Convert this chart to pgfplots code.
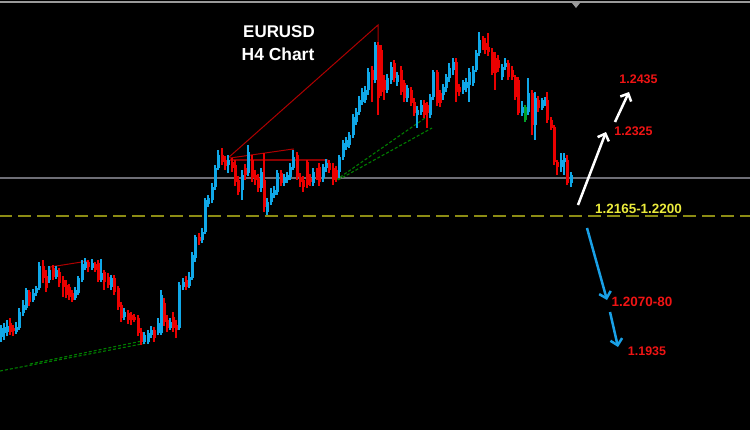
\documentclass[border=0pt]{standalone}
\usepackage{pgfplots}
\pgfplotsset{compat=1.18}
\usepackage{pgfplotstable}
\usetikzlibrary{arrows.meta}
\usepackage{fontspec}
\setmainfont{Liberation Sans}
\definecolor{cblue}{RGB}{16,168,232}
\definecolor{cred}{RGB}{235,0,0}
\definecolor{cgreen}{RGB}{0,160,40}
\definecolor{tline}{RGB}{175,0,0}
\definecolor{gline}{RGB}{0,125,0}
\definecolor{olivel}{RGB}{140,140,20}
\definecolor{grayl}{RGB}{110,110,118}
\definecolor{txtred}{RGB}{240,20,20}
\definecolor{txtyel}{RGB}{235,235,60}
\definecolor{arrblue}{RGB}{25,160,230}

\pgfplotstableread{
x t b h l
1 328 337 325 342
4 327 333 323 340
7 326 332 320 336
16 327 332 322 334
19 312 328 308 330
23 305 313 300 316
26 290 308 288 310
33 293 300 289 302
36 288 293 286 296
39 266 288 262 290
49 270 280 266 283
56 270 277 266 279
75 290 298 287 300
78 278 293 276 295
82 264 280 260 282
85 262 268 258 270
92 263 268 259 270
101 273 280 259 282
111 278 287 275 290
124 312 317 308 320
144 335 342 332 344
148 333 342 330 344
151 330 335 326 338
158 323 333 318 335
161 295 333 290 335
170 322 328 318 330
179 285 328 282 330
183 282 287 278 290
189 277 286 272 288
192 255 278 252 280
195 237 258 235 262
202 232 240 228 243
205 200 232 198 234
208 198 204 195 207
212 187 200 183 203
215 168 187 165 190
218 155 168 150 170
228 160 165 155 173
242 175 190 170 200
248 152 173 145 176
261 172 188 168 192
267 202 212 198 215
271 193 202 188 205
274 190 195 186 198
277 173 192 170 195
284 177 183 174 186
287 175 180 172 183
290 167 177 163 180
293 157 168 150 170
313 172 183 168 186
323 167 178 164 182
326 163 168 159 172
339 157 172 155 178
343 143 157 140 160
346 140 147 137 150
349 135 145 132 148
353 117 135 114 138
356 112 122 108 125
359 100 112 96 115
362 92 102 88 105
365 90 100 86 103
368 72 90 68 95
375 45 80 42 83
387 78 90 74 93
391 67 80 62 84
397 75 82 72 86
407 88 98 85 102
417 110 115 106 128
421 105 112 100 115
430 97 115 94 118
433 72 97 70 100
443 87 95 84 100
446 77 88 74 92
449 68 78 63 82
453 62 70 58 75
463 82 90 80 94
466 82 88 78 92
469 72 85 68 102
473 70 83 66 86
476 53 70 50 72
479 40 53 32 56
502 67 77 64 80
505 63 67 58 70
522 107 113 101 116
528 93 112 78 115
535 98 125 92 140
542 100 108 98 110
545 99 103 97 106
561 160 167 153 172
564 158 162 153 175
571 175 183 172 187
}\bluecandles

\pgfplotstableread{
x t b h l
10 323 332 318 335
13 328 331 325 336
29 292 302 290 306
43 266 278 260 283
46 276 288 270 292
53 268 277 265 280
59 272 283 268 287
63 280 287 276 297
66 285 295 280 298
69 287 297 284 300
72 293 300 290 302
88 262 267 260 272
95 264 270 262 272
98 263 280 260 282
104 272 282 270 290
108 277 285 273 288
114 278 292 275 295
118 288 307 286 310
121 305 318 302 322
128 313 320 310 324
131 315 320 312 325
134 317 320 314 322
138 318 333 315 336
141 332 342 328 345
154 330 338 327 342
164 303 322 298 326
167 320 328 315 332
173 317 328 312 332
176 325 330 320 338
186 280 287 276 290
199 237 241 233 245
222 155 162 148 165
225 160 166 156 170
232 162 168 158 172
235 165 182 160 186
238 180 192 176 195
245 168 175 164 180
252 160 178 155 182
255 175 180 170 185
258 178 188 174 192
264 180 207 153 212
281 173 183 170 186
297 155 177 152 180
300 177 182 173 187
303 180 187 176 192
307 162 185 160 188
310 178 182 174 186
317 172 176 168 180
319 167 182 163 186
329 163 170 160 173
333 168 180 163 185
336 170 178 166 182
372 70 80 66 102
378 45 98 42 115
381 50 92 45 96
384 80 90 75 100
394 63 78 60 82
401 70 92 66 95
404 83 98 80 102
411 90 103 87 106
414 102 113 98 116
424 103 115 100 118
427 105 113 102 128
437 72 103 70 106
440 93 103 90 107
456 62 92 58 102
459 87 92 84 96
483 40 46 36 50
485 43 50 38 54
488 47 52 33 56
492 52 73 48 75
495 58 73 52 90
498 60 68 55 72
508 63 77 60 80
512 70 77 66 80
515 77 97 75 100
518 80 113 77 115
532 93 125 90 135
538 100 108 96 112
547 100 120 92 123
551 120 128 117 130
554 127 162 125 165
557 162 167 160 175
567 160 183 155 185
}\redcandles

\pgfplotstableread{
x t b h l
525 107 120 105 122
}\greencandles

\pgfplotsset{
  wick/.style={draw=none, mark=none, forget plot,
    error bars/.cd, y dir=both, y explicit, error mark=none,
    error bar style={draw=#1, solid, line width=1.1bp}},
  body/.style={draw=none, mark=none, forget plot,
    error bars/.cd, y dir=both, y explicit, error mark=none,
    error bar style={draw=#1, solid, line width=3bp}},
}

\begin{document}
\begin{tikzpicture}
\begin{axis}[
  width=750bp, height=430bp, scale only axis,
  xmin=0, xmax=750, ymin=0, ymax=430, y dir=reverse,
  axis lines=none, ticks=none, clip=true,
]
\fill[black] (rel axis cs:0,0) rectangle (rel axis cs:1,1);

% horizontal reference lines
\addplot[grayl, line width=1.8bp, forget plot] coordinates {(0,178) (750,178)};
\addplot[olivel, line width=2bp, dash pattern=on 13bp off 6bp, forget plot] coordinates {(-1,216) (750,216)};
\addplot[gray!80, line width=2bp, forget plot] coordinates {(0,1.5) (750,1.5)};
\addplot[fill=gray!80, draw=none, forget plot] coordinates {(572,3) (580,3) (576,8)} -- cycle;

% green trend lines
\addplot[gline, line width=1.1bp, dash pattern=on 3bp off 2bp, forget plot] coordinates {(0,371) (147,343)};
\addplot[gline, line width=1.1bp, dash pattern=on 3bp off 2bp, forget plot] coordinates {(30,364) (147,340)};
\addplot[gline, line width=1.1bp, dash pattern=on 3bp off 2bp, forget plot] coordinates {(336,180) (425,118)};
\addplot[gline, line width=1.1bp, dash pattern=on 3bp off 2bp, forget plot] coordinates {(338,180) (432,128)};

% red pattern lines
\addplot[tline, line width=1bp, forget plot] coordinates {(228,158) (378,25) (378,45)};
\addplot[tline, line width=1bp, forget plot] coordinates {(230,158) (293,149) (293,159)};
\addplot[tline!80!black, line width=1.8bp, forget plot] coordinates {(230,160) (327,160) (327,167)};
\addplot[tline, line width=1bp, forget plot] coordinates {(50,272) (50,267) (88,261)};

% candles
\addplot[wick=cblue] table[x=x, y expr={(\thisrow{h}+\thisrow{l})/2}, y error expr={(\thisrow{l}-\thisrow{h})/2}] {\bluecandles};
\addplot[body=cblue] table[x=x, y expr={(\thisrow{t}+\thisrow{b})/2}, y error expr={max((\thisrow{b}-\thisrow{t})/2,0.7)}] {\bluecandles};
\addplot[wick=cred] table[x=x, y expr={(\thisrow{h}+\thisrow{l})/2}, y error expr={(\thisrow{l}-\thisrow{h})/2}] {\redcandles};
\addplot[body=cred] table[x=x, y expr={(\thisrow{t}+\thisrow{b})/2}, y error expr={max((\thisrow{b}-\thisrow{t})/2,0.7)}] {\redcandles};
\addplot[wick=cgreen] table[x=x, y expr={(\thisrow{h}+\thisrow{l})/2}, y error expr={(\thisrow{l}-\thisrow{h})/2}] {\greencandles};
\addplot[body=cgreen] table[x=x, y expr={(\thisrow{t}+\thisrow{b})/2}, y error expr={max((\thisrow{b}-\thisrow{t})/2,0.7)}] {\greencandles};

% arrows
\addplot[white, line width=2.5bp, -{Straight Barb[length=6bp,width=12bp]}, forget plot] coordinates {(578,205) (606,132)};
\addplot[white, line width=2.5bp, -{Straight Barb[length=6bp,width=12bp]}, forget plot] coordinates {(615,122) (629,92)};
\addplot[arrblue, line width=2.5bp, -{Straight Barb[length=6bp,width=12bp]}, forget plot] coordinates {(587,228) (607,300)};
\addplot[arrblue, line width=2.5bp, -{Straight Barb[length=6bp,width=12bp]}, forget plot] coordinates {(610,312) (618,347)};

% labels
\node[text=white, font=\bfseries\fontsize{17}{20}\selectfont] at (axis cs:279,32) {EURUSD};
\node[text=white, font=\bfseries\fontsize{17.5}{20}\selectfont] at (axis cs:278,54) {H4 Chart};
\node[text=txtred, font=\bfseries\fontsize{12.5}{14}\selectfont] at (axis cs:638.5,79.5) {1.2435};
\node[text=txtred, font=\bfseries\fontsize{12.5}{14}\selectfont] at (axis cs:633.5,131) {1.2325};
\node[text=txtyel, font=\bfseries\fontsize{13.5}{15}\selectfont] at (axis cs:638.5,209) {1.2165-1.2200};
\node[text=txtred, font=\bfseries\fontsize{13.5}{15}\selectfont] at (axis cs:642,302) {1.2070-80};
\node[text=txtred, font=\bfseries\fontsize{12.5}{14}\selectfont] at (axis cs:647,351) {1.1935};
\end{axis}
\end{tikzpicture}
\end{document}
